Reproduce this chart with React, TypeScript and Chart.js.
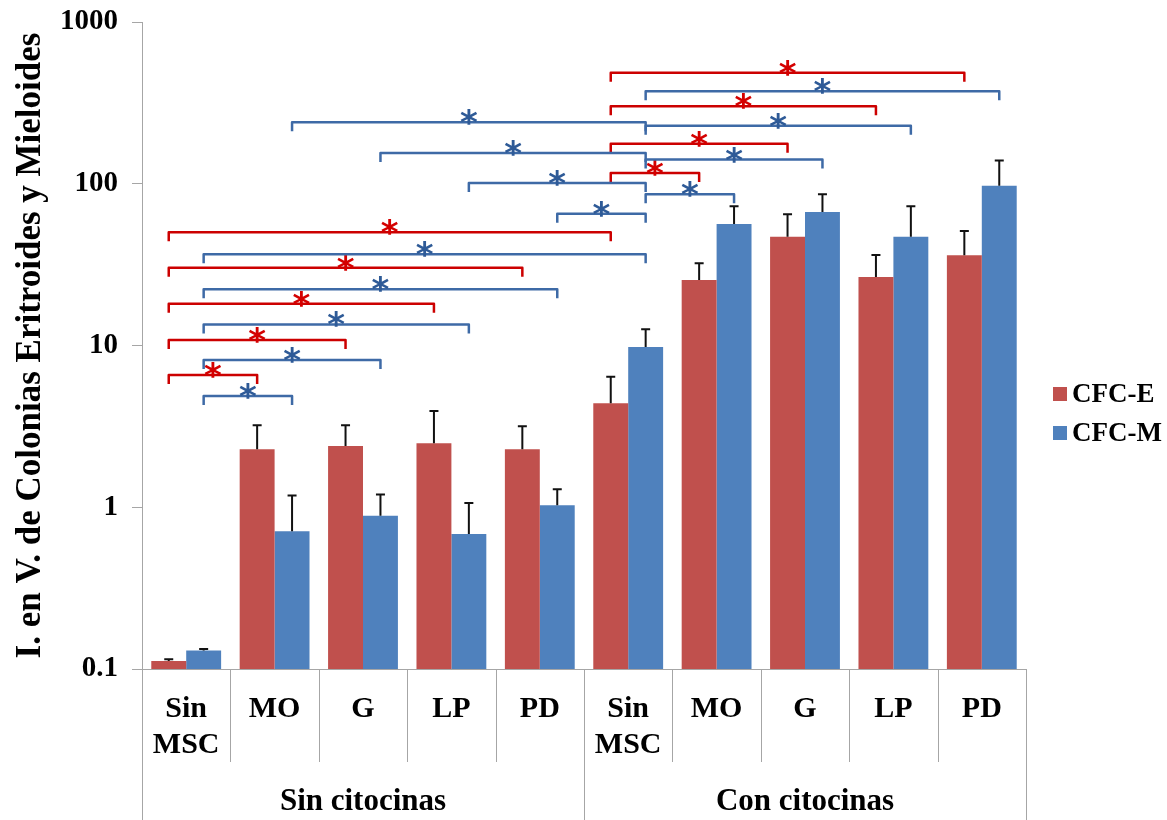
import React, { useEffect, useRef } from 'react';
import { Chart, registerables } from 'chart.js';

Chart.register(...registerables);

// ---------- data ----------
const categories: (string | string[])[] = [
  ['Sin', 'MSC'], 'MO', 'G', 'LP', 'PD',
  ['Sin', 'MSC'], 'MO', 'G', 'LP', 'PD',
];
const groupLabels = ['Sin citocinas', 'Con citocinas'];
const groupSizes = [5, 5];
const seriesNames = ['CFC-E', 'CFC-M'];
const cfcE = [0.112, 2.28, 2.39, 2.49, 2.28, 4.4, 25.4, 47.1, 26.5, 36.1];
const cfcEErr = [0.003, 0.93, 0.82, 1.45, 0.89, 2.0, 6.8, 17.6, 9.8, 14.9];
const cfcM = [0.13, 0.71, 0.887, 0.684, 1.03, 9.8, 56.4, 66.9, 47.1, 97.3];
const cfcMErr = [0.003, 0.47, 0.31, 0.38, 0.26, 2.8, 16.1, 19.1, 25.4, 41.7];
const yTickValues = [0.1, 1, 10, 100, 1000];
const yTitle = 'I. en V. de Colonias Eritroides y Mieloides';

// significance brackets: [series index, from category, to category, level]
const bracketsE: number[][] = [
  [0, 0, 1, 6.57],
  [0, 0, 2, 10.8],
  [0, 0, 3, 18.1],
  [0, 0, 4, 30.3],
  [0, 0, 5, 50.1],
  [0, 5, 6, 116.5],
  [0, 5, 7, 177],
  [0, 5, 8, 301],
  [0, 5, 9, 486],
];
const bracketsM: number[][] = [
  [1, 0, 1, 4.87],
  [1, 0, 2, 8.13],
  [1, 0, 3, 13.5],
  [1, 0, 4, 22.3],
  [1, 0, 5, 36.6],
  [1, 4, 5, 65.3],
  [1, 3, 5, 101],
  [1, 2, 5, 155],
  [1, 1, 5, 240],
  [1, 5, 6, 86.1],
  [1, 5, 7, 141],
  [1, 5, 8, 228],
  [1, 5, 9, 373],
];

// ---------- styles ----------
const SERIF = '"Liberation Serif", "Times New Roman", serif';
const barColors = ['#C0504D', '#4F81BD'];
const bracketColors = ['#CC0000', '#3E6AA6'];
const starColors = ['#D40000', '#2E5A97'];
const axisGray = '#A6A6A6';

const overlayPlugin = {
  id: 'overlay',
  afterDatasetsDraw(chart: any) {
    const { ctx, scales } = chart;
    const y = scales.y;
    const values = [cfcE, cfcM];
    const errs = [cfcEErr, cfcMErr];

    // error bars (upper only)
    ctx.save();
    ctx.strokeStyle = '#111';
    ctx.lineWidth = 2;
    for (let s = 0; s < 2; s++) {
      const meta = chart.getDatasetMeta(s);
      meta.data.forEach((bar: any, i: number) => {
        const top = y.getPixelForValue(values[s][i] + errs[s][i]);
        ctx.beginPath();
        ctx.moveTo(bar.x, bar.y);
        ctx.lineTo(bar.x, top);
        ctx.moveTo(bar.x - 4.5, top);
        ctx.lineTo(bar.x + 4.5, top);
        ctx.stroke();
      });
    }
    ctx.restore();

    // significance brackets
    const all = [...bracketsE, ...bracketsM];
    ctx.save();
    ctx.lineWidth = 2.5;
    ctx.lineJoin = 'round';
    ctx.lineCap = 'butt';
    all.forEach(([s, from, to, level]) => {
      const meta = chart.getDatasetMeta(s);
      const x1 = meta.data[from].x;
      const x2 = meta.data[to].x;
      const yy = y.getPixelForValue(level);
      ctx.strokeStyle = bracketColors[s];
      ctx.beginPath();
      ctx.moveTo(x1, yy + 9);
      ctx.lineTo(x1, yy);
      ctx.lineTo(x2, yy);
      ctx.lineTo(x2, yy + 9);
      ctx.stroke();
      ctx.fillStyle = starColors[s];
      ctx.font = 'bold 34px "DejaVu Sans"';
      ctx.textAlign = 'center';
      ctx.textBaseline = 'alphabetic';
      ctx.fillText('*', (x1 + x2) / 2, yy + 12);
    });
    ctx.restore();
  },
  afterDraw(chart: any) {
    const { ctx, scales, chartArea } = chart;
    const x = scales.x;
    const base = chartArea.bottom;
    const H = chart.height;

    ctx.save();
    ctx.strokeStyle = axisGray;
    ctx.lineWidth = 1;
    // separators
    let idx = 0;
    const boundaries: number[] = [-0.5];
    groupSizes.forEach((n) => {
      idx += n;
      boundaries.push(idx - 0.5);
    });
    for (let i = 0; i < categories.length - 1; i++) {
      const b = i + 0.5;
      if (boundaries.includes(b)) continue;
      const px = Math.round(x.getPixelForValue(b)) + 0.5;
      ctx.beginPath();
      ctx.moveTo(px, base);
      ctx.lineTo(px, base + 93);
      ctx.stroke();
    }
    boundaries.forEach((b) => {
      const px = Math.round(x.getPixelForValue(b)) + 0.5;
      ctx.beginPath();
      ctx.moveTo(px, base);
      ctx.lineTo(px, H);
      ctx.stroke();
    });

    // group labels
    ctx.fillStyle = '#000';
    ctx.font = `bold 31px ${SERIF}`;
    ctx.textAlign = 'center';
    ctx.textBaseline = 'middle';
    let start = 0;
    groupSizes.forEach((n, g) => {
      const a = x.getPixelForValue(start - 0.5);
      const b = x.getPixelForValue(start + n - 0.5);
      ctx.fillText(groupLabels[g], (a + b) / 2, base + 133);
      start += n;
    });

    // legend
    const lx = chartArea.right + 27;
    const ly = [394, 433];
    ctx.font = `bold 27px ${SERIF}`;
    ctx.textAlign = 'left';
    seriesNames.forEach((name, s) => {
      ctx.fillStyle = barColors[s];
      ctx.fillRect(lx, ly[s] - 7, 14, 14);
      ctx.fillStyle = '#000';
      ctx.fillText(name, lx + 19, ly[s] + 1);
    });
    ctx.restore();
  },
};

export default function App() {
  const canvasRef = useRef<HTMLCanvasElement | null>(null);

  useEffect(() => {
    if (!canvasRef.current) return;
    const chart = new Chart(canvasRef.current, {
      type: 'bar',
      data: {
        labels: categories as any,
        datasets: [
          {
            label: seriesNames[0],
            data: cfcE,
            backgroundColor: barColors[0],
            categoryPercentage: 0.79,
            barPercentage: 1,
          },
          {
            label: seriesNames[1],
            data: cfcM,
            backgroundColor: barColors[1],
            categoryPercentage: 0.79,
            barPercentage: 1,
          },
        ],
      },
      options: {
        responsive: false,
        animation: false,
        devicePixelRatio: 1,
        layout: { padding: { left: 0, top: 22, right: 141, bottom: 0 } },
        plugins: {
          legend: { display: false },
          tooltip: { enabled: false },
        },
        scales: {
          x: {
            grid: { display: false },
            border: { display: true, color: axisGray, width: 1 },
            ticks: {
              color: '#000',
              font: { family: SERIF, size: 30, weight: 'bold' },
              padding: 14,
              maxRotation: 0,
              minRotation: 0,
              autoSkip: false,
            },
            afterFit: (s: any) => {
              s.height = 151;
              s.paddingLeft = 0;
              s.paddingRight = 0;
            },
          },
          y: {
            type: 'logarithmic',
            min: 0.1,
            max: 1000,
            grid: {
              drawOnChartArea: false,
              drawTicks: true,
              tickLength: 10,
              color: axisGray,
            },
            border: { display: true, color: axisGray, width: 1 },
            ticks: {
              color: '#000',
              font: { family: SERIF, size: 29, weight: 'bold' },
              padding: 14,
              callback: (v: any) => String(v),
            },
            afterBuildTicks: (s: any) => {
              s.ticks = yTickValues.map((v) => ({ value: v }));
            },
            title: {
              display: true,
              text: yTitle,
              color: '#000',
              font: { family: SERIF, size: 35, weight: 'bold' },
              padding: { top: 10, bottom: 0 },
            },
            afterFit: (s: any) => {
              s.width = 142;
              s.paddingTop = 0;
              s.paddingBottom = 0;
            },
          },
        },
      },
      plugins: [overlayPlugin],
    } as any);
    return () => chart.destroy();
  }, []);

  return (
    <div style={{ position: 'fixed', left: 0, top: 0, width: 1167, height: 820, background: '#fff' }}>
      <canvas ref={canvasRef} width={1167} height={820} />
    </div>
  );
}
